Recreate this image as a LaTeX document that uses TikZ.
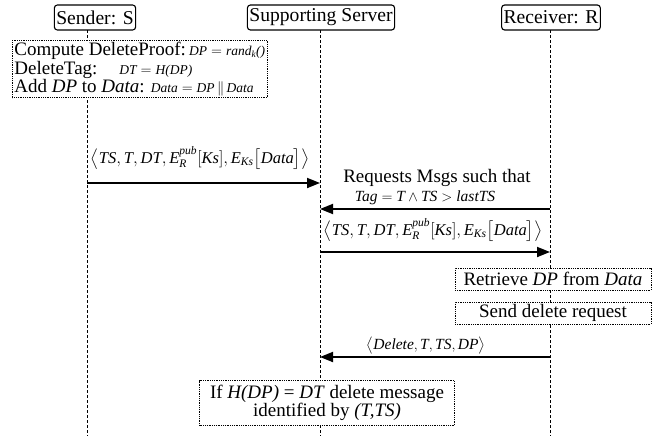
\documentclass[tikz,border=0pt]{standalone}
\usepackage{amsmath}
\usepackage{fontspec}
\setmainfont{Liberation Serif}
\usetikzlibrary{arrows.meta,positioning}

\newcommand{\sm}[1]{{\fontsize{13.5}{15}\selectfont$#1$}}
\newcommand{\payload}{$\big\langle \textit{TS}, \textit{T}, \textit{DT}, \textit{E}_{\textit{R}}^{\textit{pub}}[\textit{Ks}], \textit{E}_{\textit{Ks}}\big[\textit{Data}\big]\big\rangle$}

\begin{document}
\begin{tikzpicture}[x=1pt, y=-1pt,
    every node/.style={font=\fontsize{19}{17}\selectfont},
    actor/.style={draw, line width=1.1pt, rounded corners=3pt, inner xsep=2pt, minimum height=25pt, fill=white,
      font=\fontsize{19.6}{20}\selectfont},
    note/.style={draw, densely dotted, line width=0.8pt, fill=white, inner sep=2pt},
    lifeline/.style={densely dashed, line width=0.8pt},
    msg/.style={line width=1.8pt, -{Triangle[length=13pt, width=10pt]}},
    msglabel/.style={font=\fontsize{16.5}{17}\selectfont}
  ]
  \useasboundingbox (0,0) rectangle (664,436);

  % lifelines
  \foreach \n/\x in {s/87, v/320, r/550} {
    \coordinate (\n-top) at (\x,30);
    \coordinate (\n-bot) at (\x,436);
    \draw[lifeline] (\n-top) -- (\n-bot);
  }

  \node[actor] (sender) at (95,17.5) {Sender: S};
  \node[actor] (server) at (321,17.5) {Supporting Server};
  \node[actor] (receiver) at (551,17.5) {Receiver: R};

  \node[note, anchor=north west, align=left] (compute) at (12,40)
    {Compute DeleteProof:\,\sm{\textit{DP}=\textit{rand}_{\textit{k}}\textit{()}}\\
     DeleteTag:\hspace{22pt}\sm{\textit{DT}=\textit{H(DP)}}\\
     Add \textit{DP} to \textit{Data}:\hspace{6pt}\sm{\textit{Data}=\textit{DP}\,\|\,\textit{Data}}};

  % rows of the messages
  \coordinate (row1) at (0,183);
  \coordinate (row2) at (0,209);
  \coordinate (row3) at (0,252);
  \coordinate (row4) at (0,357);

  \node[msglabel] (lab1) at (200,158) {\payload};
  \draw[msg] (s-top |- row1) -- (v-top |- row1);

  \node[inner sep=1pt] (req) at (437,178) {Requests Msgs such that};
  \node[font=\fontsize{15.5}{15}\selectfont, inner sep=1pt] (tag) at (425,198)
    {$\textit{Tag} = \textit{T} \wedge \textit{TS} > \textit{lastTS}$};
  \draw[msg] (r-top |- row2) -- (v-top |- row2);

  \node[msglabel] (lab3) at (433,230) {\payload};
  \draw[msg] (v-top |- row3) -- (r-top |- row3);

  \node[note, minimum width=196pt, minimum height=22pt] (retrieve) at (553,279)
    {Retrieve \textit{DP} from \textit{Data}};
  \node[note, minimum width=196pt, minimum height=22pt] (send) at (553,313)
    {Send delete request};

  \node[font=\fontsize{15.5}{16}\selectfont] (lab4) at (426,346)
    {$\big\langle \textit{Delete}, \textit{T}, \textit{TS}, \textit{DP}\big\rangle$};
  \draw[msg] (r-top |- row4) -- (v-top |- row4);

  \node[note, align=center, minimum width=255pt, minimum height=45pt] (check) at (327,403)
    {If \textit{H(DP)} = \textit{DT} delete message\\identified by \textit{(T,TS)}};
\end{tikzpicture}
\end{document}
